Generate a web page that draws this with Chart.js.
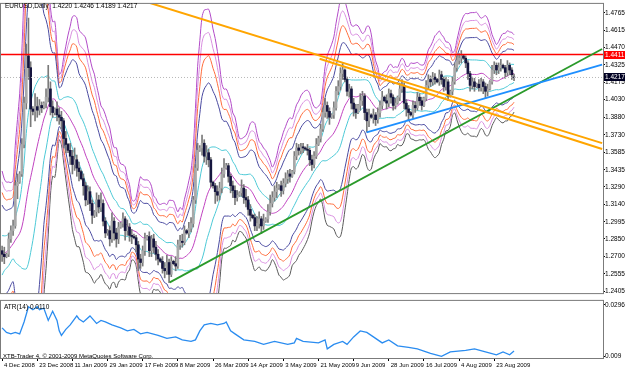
<!DOCTYPE html>
<html>
<head>
<meta charset="utf-8">
<script src="https://cdn.jsdelivr.net/npm/chart.js@4/dist/chart.umd.min.js"></script>
<style>
html, body { margin: 0; padding: 0; background: #fff; }
#wrap { position: relative; width: 625px; height: 372px; overflow: hidden; }
#main { position: absolute; left: 0; top: 0; }
#atr { position: absolute; left: 0; top: 297px; }
</style>
</head>
<body>
<div id="wrap">
  <canvas id="main" width="625" height="297"></canvas>
  <canvas id="atr" width="625" height="75"></canvas>
</div>
<script>
// EURUSD daily bars, 4 Dec 2008 .. early Sep 2009 (one bar per index, Sunday bars included)
const opens = [
1.2750,1.2720,1.2700,1.2720,1.2850,1.2920,1.2960,1.3300,1.3330,1.3400,
1.3650,1.4000,1.4400,1.4300,1.3950,1.3930,1.3970,1.3940,1.3980,1.3960,
1.4000,1.4050,1.4120,1.3970,1.3920,1.3950,1.3900,1.3880,1.3850,1.3700,
1.3650,1.3600,1.3550,1.3480,1.3520,1.3450,1.3420,1.3360,1.3300,1.3180,
1.3250,1.3150,1.3050,1.3080,1.3180,1.3120,1.3150,1.3000,1.2900,1.2920,
1.2850,1.3000,1.2900,1.2850,1.2950,1.2980,1.3020,1.2920,1.2950,1.2880,
1.2870,1.2860,1.2800,1.2680,1.2650,1.2750,1.2850,1.2870,1.2750,1.2850,
1.2780,1.2720,1.2680,1.2660,1.2600,1.2580,1.2650,1.2550,1.2660,1.2640,
1.2620,1.2800,1.2830,1.2820,1.2920,1.2900,1.2940,1.2980,1.3180,1.3450,
1.3600,1.3620,1.3660,1.3550,1.3580,1.3520,1.3330,1.3300,1.3250,1.3220,
1.3280,1.3400,1.3450,1.3470,1.3380,1.3300,1.3260,1.3200,1.3220,1.3240,
1.3280,1.3200,1.3180,1.3100,1.3050,1.3030,1.2960,1.2980,1.3020,1.2960,
1.3000,1.3020,1.3080,1.3150,1.3200,1.3250,1.3280,1.3300,1.3260,1.3320,
1.3360,1.3400,1.3380,1.3420,1.3550,1.3620,1.3600,1.3630,1.3620,1.3610,
1.3600,1.3520,1.3480,1.3550,1.3650,1.3700,1.3780,1.3920,1.3980,1.3930,
1.3880,1.3900,1.3960,1.4100,1.4140,1.4250,1.4280,1.4200,1.4100,1.4120,
1.4000,1.3950,1.3920,1.3980,1.4020,1.4060,1.3920,1.3850,1.3900,1.3880,
1.3900,1.3860,1.3920,1.3980,1.4050,1.4020,1.4000,1.4080,1.4050,1.3980,
1.4000,1.4050,1.4120,1.4150,1.4000,1.3950,1.3920,1.3900,1.3980,1.3960,
1.4050,1.4020,1.3980,1.4040,1.4150,1.4200,1.4180,1.4220,1.4200,1.4180,
1.4240,1.4200,1.4140,1.4180,1.4060,1.4100,1.4180,1.4300,1.4360,1.4380,
1.4400,1.4380,1.4340,1.4250,1.4150,1.4180,1.4140,1.4160,1.4130,1.4180,
1.4140,1.4100,1.4120,1.4180,1.4280,1.4320,1.4280,1.4300,1.4320,1.4300,
1.4260,1.4320,1.4280,1.4220
];
const highs = [
1.2790,1.2780,1.2730,1.2900,1.2960,1.3010,1.3330,1.3400,1.3420,1.3700,
1.4050,1.4500,1.4720,1.4350,1.3970,1.4080,1.4050,1.4030,1.4010,1.4010,
1.4120,1.4320,1.4180,1.4020,1.3960,1.4010,1.3960,1.3930,1.3870,1.3760,
1.3660,1.3660,1.3600,1.3620,1.3560,1.3500,1.3430,1.3400,1.3330,1.3300,
1.3290,1.3180,1.3090,1.3240,1.3220,1.3240,1.3180,1.3030,1.2930,1.2960,
1.3070,1.3030,1.2940,1.2990,1.2990,1.3070,1.3040,1.3010,1.2980,1.2930,
1.2890,1.2880,1.2830,1.2720,1.2790,1.2900,1.2880,1.2910,1.2880,1.2890,
1.2830,1.2760,1.2690,1.2700,1.2650,1.2710,1.2680,1.2700,1.2670,1.2700,
1.2840,1.2880,1.2890,1.2960,1.2930,1.2990,1.3030,1.3210,1.3480,1.3660,
1.3640,1.3730,1.3690,1.3640,1.3610,1.3540,1.3340,1.3320,1.3300,1.3330,
1.3450,1.3530,1.3490,1.3490,1.3400,1.3340,1.3300,1.3260,1.3250,1.3350,
1.3310,1.3270,1.3210,1.3140,1.3060,1.3060,1.3040,1.3080,1.3040,1.3060,
1.3030,1.3140,1.3220,1.3250,1.3300,1.3330,1.3310,1.3340,1.3360,1.3410,
1.3430,1.3440,1.3430,1.3590,1.3660,1.3650,1.3660,1.3660,1.3630,1.3650,
1.3620,1.3560,1.3590,1.3700,1.3720,1.3820,1.3960,1.4040,1.4010,1.3960,
1.3910,1.4010,1.4140,1.4190,1.4300,1.4335,1.4290,1.4220,1.4160,1.4140,
1.4040,1.3990,1.3990,1.4080,1.4100,1.4080,1.3950,1.3950,1.3910,1.3950,
1.3920,1.3960,1.4020,1.4100,1.4060,1.4070,1.4120,1.4110,1.4070,1.4040,
1.4060,1.4170,1.4200,1.4170,1.4030,1.3980,1.3930,1.4020,1.4010,1.4090,
1.4080,1.4050,1.4050,1.4190,1.4240,1.4230,1.4260,1.4250,1.4210,1.4280,
1.4270,1.4220,1.4220,1.4200,1.4110,1.4220,1.4340,1.4400,1.4420,1.4445,
1.4410,1.4400,1.4360,1.4270,1.4220,1.4210,1.4170,1.4200,1.4210,1.4200,
1.4170,1.4160,1.4190,1.4320,1.4350,1.4340,1.4340,1.4370,1.4330,1.4320,
1.4360,1.4340,1.4300,1.4246
];
const lows = [
1.2660,1.2640,1.2690,1.2700,1.2820,1.2880,1.2940,1.3190,1.3320,1.3380,
1.3620,1.3950,1.4200,1.3800,1.3900,1.3850,1.3880,1.3900,1.3920,1.3950,
1.3960,1.4010,1.3900,1.3880,1.3900,1.3850,1.3820,1.3780,1.3620,1.3580,
1.3580,1.3480,1.3400,1.3430,1.3380,1.3340,1.3350,1.3220,1.3130,1.3140,
1.3090,1.2980,1.3030,1.3040,1.3070,1.3080,1.2960,1.2860,1.2880,1.2790,
1.2820,1.2840,1.2780,1.2810,1.2940,1.2950,1.2840,1.2880,1.2830,1.2810,
1.2850,1.2740,1.2580,1.2600,1.2620,1.2710,1.2840,1.2700,1.2700,1.2730,
1.2670,1.2630,1.2650,1.2560,1.2520,1.2550,1.2480,1.2530,1.2630,1.2580,
1.2600,1.2760,1.2780,1.2800,1.2890,1.2860,1.2910,1.2950,1.3150,1.3430,
1.3590,1.3560,1.3500,1.3480,1.3460,1.3290,1.3280,1.3150,1.3170,1.3180,
1.3240,1.3370,1.3440,1.3330,1.3240,1.3200,1.3140,1.3170,1.3210,1.3210,
1.3150,1.3120,1.3050,1.3000,1.3020,1.2920,1.2920,1.2940,1.2895,1.2930,
1.2990,1.2990,1.3050,1.3120,1.3170,1.3200,1.3270,1.3210,1.3230,1.3290,
1.3320,1.3330,1.3370,1.3400,1.3520,1.3560,1.3570,1.3580,1.3600,1.3560,
1.3470,1.3430,1.3450,1.3530,1.3640,1.3670,1.3760,1.3880,1.3870,1.3820,
1.3870,1.3870,1.3940,1.4070,1.4110,1.4200,1.4180,1.4060,1.4050,1.3950,
1.3890,1.3870,1.3910,1.3940,1.3980,1.3860,1.3755,1.3800,1.3870,1.3830,
1.3810,1.3830,1.3880,1.3950,1.4010,1.3950,1.3970,1.4000,1.3940,1.3950,
1.3990,1.4020,1.4090,1.3950,1.3890,1.3850,1.3890,1.3870,1.3920,1.3940,
1.3980,1.3940,1.3970,1.4020,1.4120,1.4140,1.4150,1.4160,1.4170,1.4150,
1.4160,1.4100,1.4110,1.4020,1.4050,1.4070,1.4160,1.4270,1.4330,1.4340,
1.4370,1.4300,1.4200,1.4100,1.4120,1.4100,1.4130,1.4100,1.4100,1.4080,
1.4040,1.4060,1.4110,1.4160,1.4250,1.4240,1.4250,1.4270,1.4290,1.4210,
1.4230,1.4240,1.4200,1.4189
];
const closes = [
1.2720,1.2700,1.2720,1.2850,1.2920,1.2960,1.3300,1.3330,1.3400,1.3650,
1.4000,1.4400,1.4300,1.3950,1.3930,1.3970,1.3940,1.3980,1.3960,1.4000,
1.4050,1.4120,1.3970,1.3920,1.3950,1.3900,1.3880,1.3850,1.3700,1.3650,
1.3600,1.3550,1.3480,1.3520,1.3450,1.3420,1.3360,1.3300,1.3180,1.3250,
1.3150,1.3050,1.3080,1.3180,1.3120,1.3150,1.3000,1.2900,1.2920,1.2850,
1.3000,1.2900,1.2850,1.2950,1.2980,1.3020,1.2920,1.2950,1.2880,1.2870,
1.2860,1.2800,1.2680,1.2650,1.2750,1.2850,1.2870,1.2750,1.2850,1.2780,
1.2720,1.2680,1.2660,1.2600,1.2580,1.2650,1.2550,1.2660,1.2640,1.2620,
1.2800,1.2830,1.2820,1.2920,1.2900,1.2940,1.2980,1.3180,1.3450,1.3600,
1.3620,1.3660,1.3550,1.3580,1.3520,1.3330,1.3300,1.3250,1.3220,1.3280,
1.3400,1.3450,1.3470,1.3380,1.3300,1.3260,1.3200,1.3220,1.3240,1.3280,
1.3200,1.3180,1.3100,1.3050,1.3030,1.2960,1.2980,1.3020,1.2960,1.3000,
1.3020,1.3080,1.3150,1.3200,1.3250,1.3280,1.3300,1.3260,1.3320,1.3360,
1.3400,1.3380,1.3420,1.3550,1.3620,1.3600,1.3630,1.3620,1.3610,1.3600,
1.3520,1.3480,1.3550,1.3650,1.3700,1.3780,1.3920,1.3980,1.3930,1.3880,
1.3900,1.3960,1.4100,1.4140,1.4250,1.4280,1.4200,1.4100,1.4120,1.4000,
1.3950,1.3920,1.3980,1.4020,1.4060,1.3920,1.3850,1.3900,1.3880,1.3900,
1.3860,1.3920,1.3980,1.4050,1.4020,1.4000,1.4080,1.4050,1.3980,1.4000,
1.4050,1.4120,1.4150,1.4000,1.3950,1.3920,1.3900,1.3980,1.3960,1.4050,
1.4020,1.3980,1.4040,1.4150,1.4200,1.4180,1.4220,1.4200,1.4180,1.4240,
1.4200,1.4140,1.4180,1.4060,1.4100,1.4180,1.4300,1.4360,1.4380,1.4400,
1.4380,1.4340,1.4250,1.4150,1.4180,1.4140,1.4160,1.4130,1.4180,1.4140,
1.4100,1.4120,1.4180,1.4280,1.4320,1.4280,1.4300,1.4320,1.4300,1.4260,
1.4320,1.4280,1.4240,1.4217
];
// closes of the bars just before the first visible one (needed by the bands)
const priorCloses = [1.2500,1.2450,1.2560,1.2600,1.2560,1.2620,1.2850,1.2950,1.2980,1.2900,1.2700,1.2650,1.2720,1.2690];

// ATR(14)
const atrBars = [0,2,4,6,8,10,12,14,16,17,19,21,23,25,26,27,29,31,34,35,37,40,43,45,47,50,54,57,60,63,66,71,75,79,82,86,88,90,92,95,98,101,102,104,106,110,115,119,124,130,133,134,137,144,147,148,151,155,157,160,163,166,169,173,176,180,185,189,195,200,204,211,215,220,225,228,231,233];
const atrValues = [0.0203,0.0185,0.0179,0.0185,0.0179,0.0227,0.0288,0.0276,0.0288,0.0276,0.0282,0.0233,0.0270,0.0233,0.0191,0.0173,0.0197,0.0215,0.0251,0.0239,0.0227,0.0251,0.0221,0.0233,0.0227,0.0215,0.0203,0.0191,0.0197,0.0179,0.0185,0.0173,0.0161,0.0167,0.0155,0.0149,0.0155,0.0191,0.0215,0.0221,0.0215,0.0221,0.0227,0.0191,0.0179,0.0155,0.0149,0.0137,0.0149,0.0137,0.0143,0.0161,0.0149,0.0143,0.0155,0.0119,0.0137,0.0149,0.0137,0.0167,0.0191,0.0185,0.0167,0.0143,0.0155,0.0131,0.0125,0.0119,0.0101,0.0089,0.0107,0.0113,0.0119,0.0107,0.0095,0.0107,0.0095,0.0110];

const priceTicks = [1.4765,1.4615,1.4470,1.4325,1.4175,1.4030,1.3880,1.3730,1.3585,1.3435,1.3290,1.3140,1.2995,1.2850,1.2700,1.2555,1.2405];
const dateLabels = ['4 Dec 2008','23 Dec 2008','11 Jan 2009','29 Jan 2009','17 Feb 2009','8 Mar 2009','26 Mar 2009','14 Apr 2009','3 May 2009','21 May 2009','9 Jun 2009','28 Jun 2009','16 Jul 2009','4 Aug 2009','23 Aug 2009'];
const dateLabelBars = [0,16,32,48,64,80,96,112,128,144,160,176,192,208,224];

// drawn objects: [bar, price] end points
const orangeLineA = [[44.5,1.4979],[273.1,1.3661]];
const orangeLineB = [[144.5,1.4375],[273.1,1.3611]];
const blueLine = [[165.9,1.3752],[273.1,1.4325]];
const greenLine = [[76.3,1.2482],[273.1,1.4458]];
const resistance = 1.4411;

const bbPeriod = 14;
const bandDevs = [1.1, 2.8, 3.5, 4.1, 4.7];
const upperColors = ['#4cc9d6','#4a4aa0','#ff6c3c','#d98fe0','#b24ac8'];
const lowerColors = ['#4cc9d6','#4a4aa0','#ff6c3c','#d98fe0','#5a5a5a'];

const n = closes.length;
const xMin = -0.5, xMax = 273.5;
const font = 'Liberation Sans, Arial, sans-serif';
const narrow = 'Liberation Sans Narrow, Arial Narrow, Liberation Sans, sans-serif';

const allCloses = priorCloses.concat(closes);
function band(k) {
  const pts = [];
  for (let i = 0; i < n; i++) {
    const end = i + priorCloses.length;
    const win = allCloses.slice(end - bbPeriod + 1, end + 1);
    const mean = win.reduce((a, b) => a + b, 0) / bbPeriod;
    const sd = Math.sqrt(win.reduce((a, b) => a + (b - mean) * (b - mean), 0) / bbPeriod);
    pts.push({ x: i, y: mean + k * sd });
  }
  return pts;
}

const wicks = [], bullBodies = [], bearBodies = [];
for (let i = 0; i < n; i++) {
  wicks.push({ x: i, y: [lows[i], highs[i]] });
  if (closes[i] >= opens[i]) bullBodies.push({ x: i, y: [opens[i], closes[i]] });
  else bearBodies.push({ x: i, y: [closes[i], opens[i]] });
}

function seg(p, color, width, dash) {
  return {
    type: 'line', order: 0,
    data: p.map(a => ({ x: a[0], y: a[1] })),
    borderColor: color, borderWidth: width, borderDash: dash || [],
    pointRadius: 0, fill: false, tension: 0
  };
}

const datasets = [
  seg(orangeLineA, '#ffa500', 2),
  seg(orangeLineB, '#ffa500', 2),
  seg(blueLine, '#1e8fff', 1.8),
  seg(greenLine, '#2a9a2a', 1.8),
  seg([[xMin, resistance], [xMax, resistance]], '#ff0000', 1.5),
  seg([[xMin, closes[n - 1]], [xMax, closes[n - 1]]], '#b8b8b8', 1, [1, 2]),
  { type: 'bar', order: 1, grouped: false, data: bearBodies, backgroundColor: '#16163f', barThickness: 2, borderWidth: 0 },
  { type: 'bar', order: 1, grouped: false, data: bullBodies, backgroundColor: '#a9a9a9', barThickness: 2, borderWidth: 0 },
  { type: 'bar', order: 1, grouped: false, data: wicks, backgroundColor: '#7a7a7a', barThickness: 1, borderWidth: 0 }
];
bandDevs.forEach((k, j) => {
  datasets.push({ type: 'line', order: 2, data: band(k), borderColor: upperColors[j], borderWidth: 1, pointRadius: 0, fill: false, tension: 0.3 });
  datasets.push({ type: 'line', order: 2, data: band(-k), borderColor: lowerColors[j], borderWidth: 1, pointRadius: 0, fill: false, tension: 0.3 });
});
datasets.push({ type: 'line', order: 2, data: band(0), borderColor: '#c043c0', borderWidth: 1, pointRadius: 0, fill: false, tension: 0.3 });

const frame = {
  id: 'frame',
  afterDraw(chart) {
    const { ctx, chartArea: a } = chart;
    ctx.save();
    ctx.strokeStyle = '#7b7b7b';
    ctx.lineWidth = 1;
    ctx.strokeRect(a.left - 0.5, a.top - 0.5, a.right - a.left + 1, a.bottom - a.top + 1);
    ctx.restore();
  }
};

const mainExtras = {
  id: 'mainExtras',
  afterDraw(chart) {
    const { ctx, chartArea: a, scales: { y } } = chart;
    ctx.save();
    ctx.font = '6.5px ' + font;
    ctx.textBaseline = 'middle';
    ctx.fillStyle = '#000';
    ctx.fillText('EURUSD,Daily  ' + [opens[n - 1], highs[n - 1], lows[n - 1], closes[n - 1]].map(v => v.toFixed(4)).join(' '), 5, 6);
    const tag = (v, bg) => {
      const py = Math.round(y.getPixelForValue(v));
      ctx.fillStyle = bg;
      ctx.fillRect(a.right + 1, py - 4, 625 - a.right - 1, 8);
      ctx.fillStyle = '#fff';
      ctx.font = '6.5px ' + font;
      ctx.textAlign = 'left';
      ctx.fillText(v.toFixed(4), a.right + 2, py + 0.5);
    };
    tag(resistance, '#ff0000');
    tag(closes[n - 1], '#000022');
    ctx.restore();
  }
};

new Chart(document.getElementById('main'), {
  type: 'bar',
  data: { datasets },
  options: {
    responsive: false,
    animation: false,
    layout: { padding: { left: 1, top: 1, bottom: 1, right: 0 } },
    plugins: { legend: { display: false }, tooltip: { enabled: false } },
    scales: {
      x: { type: 'linear', min: xMin, max: xMax, display: false, offset: false },
      y: {
        position: 'right', min: 1.2391, max: 1.4840,
        afterBuildTicks: s => { s.ticks = priceTicks.map(v => ({ value: v })); },
        afterFit: s => { s.width = 22; },
        grid: { drawOnChartArea: false, drawTicks: true, tickLength: 2, color: '#000' },
        border: { display: false },
        ticks: { font: { family: font, size: 6.5 }, color: '#000', padding: 0, callback: v => v.toFixed(4) }
      }
    }
  },
  plugins: [frame, mainExtras]
});

const atrExtras = {
  id: 'atrExtras',
  afterDraw(chart) {
    const { ctx, chartArea: a } = chart;
    ctx.save();
    ctx.font = '6.5px ' + font;
    ctx.fillStyle = '#000';
    ctx.textBaseline = 'middle';
    ctx.fillText('ATR(14) ' + atrValues[atrValues.length - 1].toFixed(4), 4, a.top + 6);
    ctx.font = '6px ' + font;
    ctx.fillText('XTB-Trader 4, \u00a9 2001-2009 MetaQuotes Software Corp.', 3, a.bottom - 2);
    ctx.restore();
  }
};

new Chart(document.getElementById('atr'), {
  type: 'line',
  data: {
    datasets: [{
      data: atrBars.map((b, i) => ({ x: b, y: atrValues[i] })),
      borderColor: '#2a8cf0', borderWidth: 1.3, pointRadius: 0, fill: false, tension: 0
    }]
  },
  options: {
    responsive: false,
    animation: false,
    layout: { padding: { left: 1, top: 1, bottom: 0, right: 0 } },
    plugins: { legend: { display: false }, tooltip: { enabled: false } },
    scales: {
      x: {
        type: 'linear', min: xMin, max: xMax, offset: false,
        afterBuildTicks: s => { s.ticks = dateLabelBars.map(v => ({ value: v })); },
        afterFit: s => { s.height = 14; },
        grid: { drawOnChartArea: false, drawTicks: true, tickLength: 3, color: '#000' },
        border: { display: false },
        ticks: {
          font: { family: narrow, size: 6 }, color: '#000', padding: 1, align: 'start', labelOffset: 2,
          autoSkip: false, maxRotation: 0, minRotation: 0,
          callback: v => dateLabels[dateLabelBars.indexOf(v)]
        }
      },
      y: {
        position: 'right', min: 0.00824, max: 0.03113,
        afterBuildTicks: s => { s.ticks = [{ value: 0.0296 }, { value: 0.009 }]; },
        afterFit: s => { s.width = 22; },
        grid: { drawOnChartArea: false, drawTicks: true, tickLength: 2, color: '#000' },
        border: { display: false },
        ticks: { font: { family: font, size: 6.5 }, color: '#000', padding: 0, callback: v => (v > 0.02 ? '0.0296' : '0.009') }
      }
    }
  },
  plugins: [frame, atrExtras]
});
</script>
</body>
</html>
